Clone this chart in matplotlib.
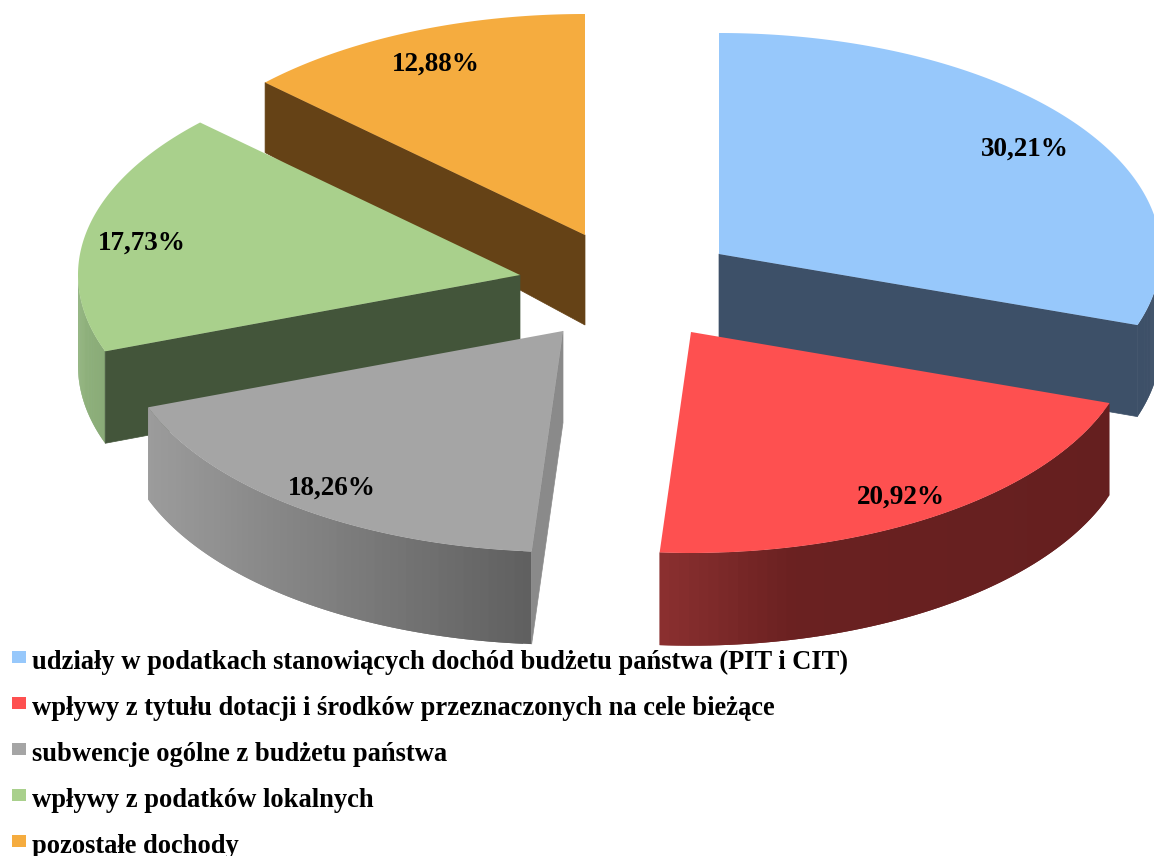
import numpy as np
import matplotlib

matplotlib.use("Agg")
import matplotlib.pyplot as plt
from matplotlib.collections import PolyCollection
from matplotlib.colors import to_rgb
from matplotlib.patches import Polygon, Rectangle

plt.rcParams["font.family"] = ["Liberation Serif", "DejaVu Serif"]

categories = [
    "udziały w podatkach stanowiących dochód budżetu państwa (PIT i CIT)",
    "wpływy z tytułu dotacji i środków przeznaczonych na cele bieżące",
    "subwencje ogólne z budżetu państwa",
    "wpływy z podatków lokalnych",
    "pozostałe dochody",
]
shares = [30.21, 20.92, 18.26, 17.73, 12.88]

top_colors = ["#97c8fb", "#fe5050", "#a5a5a5", "#a9d08c", "#f5ac3f"]
face_colors = ["#3d5068", "#651f1f", "#8a8a8a", "#43553a", "#654216"]
# wall shading along each slice, (fraction of its width, colour)
wall_stops = [
    [(0, "#3d5068"), (1, "#3d5068")],
    [(0, "#651f1f"), (0.69, "#6a2121"), (1, "#8c3030")],
    [(0, "#606060"), (1, "#9c9c9c")],
    [(0, "#8aab78"), (1, "#8fb27c")],
    [(0, "#654216"), (1, "#654216")],
]

# exploded slice tips, in pixels
tips = [(719, 254), (691, 332), (563, 331), (520, 275), (585, 235)]
label_pos = [(1025, 149), (901, 497), (332, 488), (142, 243), (436, 64)]
draw_order = [4, 3, 0, 2, 1]

RX, RY = 442, 221


def depth(y):
    # slices look thinner towards the back
    return np.interp(y, [13, 82, 235, 350, 650], [60, 70, 90, 92, 93])


def rim(tip, theta):
    return tip[0] + RX * np.sin(theta), tip[1] - RY * np.cos(theta)


def wall_color(stops, t):
    pos = [s[0] for s in stops]
    rgb = np.array([to_rgb(s[1]) for s in stops])
    return tuple(np.interp(t, pos, rgb[:, i]) for i in range(3))


fig = plt.figure(figsize=(11.54, 8.56), dpi=100)
ax = fig.add_axes([0, 0, 1, 1])
ax.set_xlim(0, 1154)
ax.set_ylim(856, 0)
ax.axis("off")

edges = 2 * np.pi * np.cumsum([0] + shares) / sum(shares)

for i in draw_order:
    tip = tips[i]
    t0, t1 = edges[i], edges[i + 1]

    # outer wall, front half of the rim only. Each band runs over the next one
    # so the seams do not show
    lo, hi = max(t0, np.pi / 2), min(t1, 3 * np.pi / 2)
    if lo < hi:
        th = np.linspace(lo, hi, 60)
        x, y = rim(tip, th)
        d = depth(y)
        n = len(th)
        quads, cols = [], []
        for k in range(n - 1):
            k2 = min(k + 2, n - 1)
            top = list(zip(x[k:k2 + 1], y[k:k2 + 1]))
            bottom = list(zip(x[k:k2 + 1], (y + d)[k:k2 + 1]))
            quads.append(top + bottom[::-1])
            cols.append(wall_color(wall_stops[i], abs(x[k] - x[0]) / abs(x[-1] - x[0])))
        ax.add_collection(PolyCollection(quads, facecolors=cols, edgecolors="none"))

    # flat cut faces, only those turned towards the viewer
    for theta, sign in ((t0, -1), (t1, 1)):
        if sign * -np.sin(theta) < 0:
            x, y = rim(tip, theta)
            ax.add_patch(Polygon(
                [tip, (x, y), (x, y + depth(y)), (tip[0], tip[1] + depth(tip[1]))],
                closed=True, fc=face_colors[i], ec=face_colors[i], lw=0.5,
            ))

    # top surface
    th = np.linspace(t0, t1, 200)
    x, y = rim(tip, th)
    ax.add_patch(Polygon(
        np.vstack([[tip], np.column_stack([x, y])]),
        closed=True, fc=top_colors[i], ec="none",
    ))

for share, (x, y) in zip(shares, label_pos):
    ax.text(x, y, f"{share:.2f}%".replace(".", ","), fontsize=19.5, fontweight="bold",
            ha="center", va="center", color="black")

# legend
for k, name in enumerate(categories):
    ax.add_patch(Rectangle((12, 651 + 46 * k), 14, 12, fc=top_colors[k], ec="none"))
    ax.text(32, 669 + 46 * k, name, fontsize=19.1, fontweight="bold", ha="left", va="baseline")

fig.savefig("out.png", dpi=100)
